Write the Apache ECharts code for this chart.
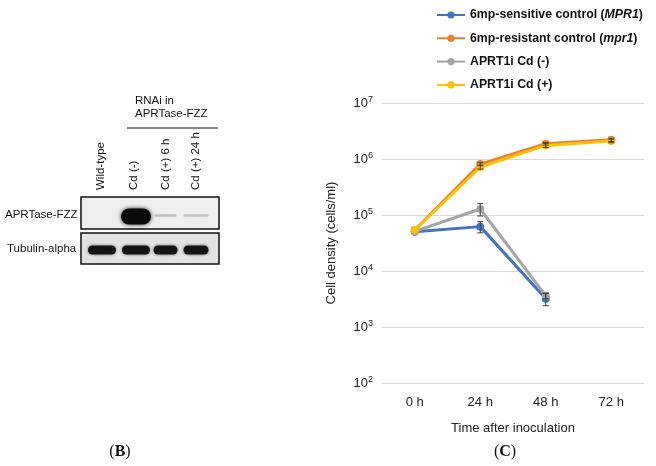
<!DOCTYPE html>
<html><head><meta charset="utf-8">
<script src="https://cdn.jsdelivr.net/npm/echarts@6/dist/echarts.min.js"></script>
<style>html,body{margin:0;padding:0;background:#fff}#c{width:656px;height:466px}</style>
</head><body><div id="c"></div>
<script>
var categories = ['0 h', '24 h', '48 h', '72 h'];
var seriesNames = ['6mp-sensitive control (MPR1)', '6mp-resistant control (mpr1)', 'APRT1i Cd (-)', 'APRT1i Cd (+)'];
var sensitive = [5.0e4, 6.2e4, 3.2e3, null];
var resistant = [5.4e4, 8.1e5, 1.87e6, 2.2e6];
var aprtNeg = [5.1e4, 1.28e5, 3.6e3, null];
var aprtPos = [5.4e4, 7.2e5, 1.75e6, 2.1e6];
var sensitiveErr = [0, 1.4e4, 0.8e3, 0];
var resistantErr = [0, 0.5e5, 1.0e5, 1.5e5];
var aprtNegErr = [0, 3.2e4, 0.4e3, 0];
var aprtPosErr = [0, 0.6e5, 1.5e5, 1.5e5];
var yTicks = [100, 1000, 10000, 100000, 1000000, 10000000];
var laneLabels = ['Wild-type', 'Cd (-)', 'Cd (+) 6 h', 'Cd (+) 24 h'];
var aprtBand = [0.0, 1.0, 0.18, 0.15];
var tubulinBand = [0.95, 0.95, 0.95, 0.95];

var colors = ['#4472C4', '#ED7D31', '#A5A5A5', '#FFC000'];
var values = [sensitive, resistant, aprtNeg, aprtPos];
var errs = [sensitiveErr, resistantErr, aprtNegErr, aprtPosErr];
var FONT = 'Liberation Sans, Arial, sans-serif';

var chart = echarts.init(document.getElementById('c'));

var series = [];
values.forEach(function (v, i) {
  series.push({
    name: seriesNames[i], type: 'line', data: v, z: 3 + i,
    symbol: 'circle', symbolSize: 8, connectNulls: false,
    lineStyle: { width: 3, color: colors[i] },
    itemStyle: { color: colors[i] }
  });
});
var errData = [];
values.forEach(function (v, i) {
  v.forEach(function (val, j) {
    if (val != null && errs[i][j] > 0) errData.push([j, val - errs[i][j], val + errs[i][j]]);
  });
});
series.push({
  type: 'custom', z: 10, silent: true,
  data: errData,
  renderItem: function (params, api) {
    var lo = api.coord([api.value(0), api.value(1)]);
    var hi = api.coord([api.value(0), api.value(2)]);
    var w = 3;
    var st = { stroke: '#404040', lineWidth: 1 };
    return { type: 'group', children: [
      { type: 'line', shape: { x1: lo[0], y1: lo[1], x2: hi[0], y2: hi[1] }, style: st },
      { type: 'line', shape: { x1: lo[0] - w, y1: lo[1], x2: lo[0] + w, y2: lo[1] }, style: st },
      { type: 'line', shape: { x1: hi[0] - w, y1: hi[1], x2: hi[0] + w, y2: hi[1] }, style: st }
    ]};
  },
  encode: { x: 0, y: [1, 2] }
});

// western blot graphics
var g = [];
g.push({ type: 'text', left: 135, top: 95, style: { text: 'RNAi in', font: '11.5px ' + FONT, fill: '#111' } });
g.push({ type: 'text', left: 135, top: 108, style: { text: 'APRTase-FZZ', font: '11.5px ' + FONT, fill: '#111' } });
g.push({ type: 'line', shape: { x1: 127, y1: 128, x2: 218, y2: 128 }, style: { stroke: '#111', lineWidth: 1 } });
var laneX = [101, 134, 166, 196];
laneLabels.forEach(function (t, i) {
  g.push({ type: 'text', x: laneX[i], y: 190, rotation: Math.PI / 2,
    style: { text: t, font: '11.5px ' + FONT, fill: '#111', align: 'left', verticalAlign: 'middle' } });
});
g.push({ type: 'rect', shape: { x: 81, y: 197, width: 138, height: 32 }, style: { fill: '#efefef', stroke: '#111', lineWidth: 1.5 } });
g.push({ type: 'rect', shape: { x: 81, y: 233, width: 138, height: 31 }, style: { fill: '#e2e2e2', stroke: '#111', lineWidth: 1.5 } });
g.push({ type: 'text', left: 5, top: 209, style: { text: 'APRTase-FZZ', font: '11.5px ' + FONT, fill: '#111' } });
g.push({ type: 'text', left: 7, top: 243, style: { text: 'Tubulin-alpha', font: '11.5px ' + FONT, fill: '#111' } });
var bandX = [102, 136, 165.5, 196];
var bandW = [28, 28, 22, 25];
aprtBand.forEach(function (a, i) {
  if (a <= 0) return;
  var big = a > 0.5;
  var h = big ? 16 : 2.5;
  g.push({ type: 'rect', shape: { x: bandX[i] - (big ? 15 : bandW[i] / 2), y: 216.5 - h / 2 - (big ? 0 : 1), width: big ? 30 : bandW[i], height: h, r: h / 2 },
    style: { fill: 'rgba(10,10,10,' + a + ')', shadowBlur: big ? 4 : 3, shadowColor: 'rgba(0,0,0,' + (big ? 0.8 : 0.25) + ')' } });
});
tubulinBand.forEach(function (a, i) {
  g.push({ type: 'rect', shape: { x: bandX[i] - bandW[i] / 2 - (i === 2 ? 1 : 0), y: 245.5, width: bandW[i] + (i === 2 ? 2 : 0), height: 9, r: 4.5 },
    style: { fill: 'rgba(15,15,15,' + a + ')', shadowBlur: 3, shadowColor: 'rgba(0,0,0,0.6)' } });
});
g.push({ type: 'text', x: 120, y: 452, style: { text: '({b|B})', font: '16px Liberation Serif, serif', fill: '#111', align: 'center', verticalAlign: 'middle', rich: { b: { fontWeight: 'bold', fontSize: 16, fontFamily: 'Liberation Serif, serif' } } } });
g.push({ type: 'text', x: 505, y: 452, style: { text: '({b|C})', font: '16px Liberation Serif, serif', fill: '#111', align: 'center', verticalAlign: 'middle', rich: { b: { fontWeight: 'bold', fontSize: 16, fontFamily: 'Liberation Serif, serif' } } } });

chart.setOption({
  animation: false,
  color: colors,
  textStyle: { fontFamily: FONT },
  grid: { left: 382, right: 12, top: 103, bottom: 83, containLabel: false },
  legend: {
    orient: 'vertical', left: 431, top: 4, itemWidth: 28, itemHeight: 9, itemGap: 11.3,
    data: seriesNames,
    formatter: function (n) {
      var m = n.match(/^(.*\()(.*)(\))$/);
      if (m) return '{b|' + m[1] + '}{i|' + m[2] + '}{b|' + m[3] + '}';
      return '{b|' + n + '}';
    },
    textStyle: {
      rich: {
        b: { fontWeight: 'bold', fontSize: 12.3, color: '#111', fontFamily: FONT },
        i: { fontWeight: 'bold', fontStyle: 'italic', fontSize: 12.3, color: '#111', fontFamily: FONT }
      }
    }
  },
  xAxis: {
    type: 'category', data: categories, boundaryGap: true,
    axisLine: { show: false }, axisTick: { show: false },
    axisLabel: { fontSize: 13, color: '#222', margin: 13 },
    name: 'Time after inoculation', nameLocation: 'middle', nameGap: 39,
    nameTextStyle: { fontSize: 13, color: '#222' }
  },
  yAxis: {
    type: 'log', logBase: 10, min: yTicks[0], max: yTicks[yTicks.length - 1], interval: 1,
    axisLine: { show: false }, axisTick: { show: false },
    splitLine: { lineStyle: { color: '#d9d9d9', width: 1 } },
    axisLabel: {
      margin: 9, color: '#222',
      formatter: function (v) { return '10{s|' + Math.round(Math.log10(v)) + '}'; },
      rich: { s: { fontSize: 9, verticalAlign: 'top', padding: [0, 0, 7, 0], color: '#222' } },
      fontSize: 13
    },
    name: 'Cell density (cells/ml)', nameLocation: 'middle', nameGap: 44,
    nameTextStyle: { fontSize: 13, color: '#222' }
  },
  series: series,
  graphic: g
});
</script></body></html>
